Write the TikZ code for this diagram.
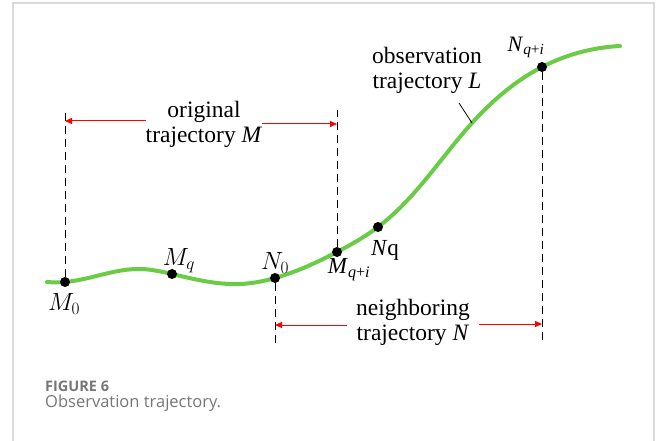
\documentclass[tikz,border=0pt]{standalone}
\usepackage{fontspec}
\setmainfont{Liberation Serif}
\newfontfamily\capfont{Open Sans}
\usepackage{tikz}
\usetikzlibrary{positioning,arrows.meta,hobby}
\definecolor{trajgreen}{RGB}{106,204,70}
\definecolor{capgray}{RGB}{118,118,118}
\definecolor{framegray}{RGB}{218,218,218}

\begin{document}
\begin{tikzpicture}[x=1pt, y=-1pt,
  dot/.style={circle, fill=black, inner sep=0pt, minimum size=10pt},
  span/.style={red, line width=1pt, -{Triangle[length=7pt, width=6pt]}},
  guide/.style={dash pattern=on 8pt off 5pt, line width=0.9pt},
  lbl/.style={font=\fontsize{23}{25}\selectfont, inner sep=0pt},
  txt/.style={font=\fontsize{23.5}{25}\selectfont, align=center, inner sep=0pt}]
\useasboundingbox (0,0) rectangle (656,441);
% frame
\draw[framegray, line width=1.5pt] (13,441) -- (13,3) -- (654,3) -- (654,441);
% observation trajectory
\draw[trajgreen, line width=4pt, line cap=round, use Hobby shortcut]
  (47,282) .. (65,282) .. (140,269) .. (172,274) .. (240,284) .. (275,278)
  .. (337,252) .. (378,227) .. (472,123) .. (542,67) .. (620,46);
% points on the curve
\node[dot] (M0)  at (65,282) {};
\node[dot] (Mq)  at (172,274) {};
\node[dot] (N0)  at (275,278) {};
\node[dot] (Mqi) at (337,252) {};
\node[dot] (Nq)  at (378,227) {};
\node[dot] (Nqi) at (542,67) {};
\node[lbl] (lM0)  at (64,304) {$M_0$};
\node[lbl] (lMq)  at (179,261) {$M_q$};
\node[lbl] (lN0)  at (275,263) {$N_0$};
\node[lbl] (lMqi) at (349,270) {\textit{M}\textsubscript{\textit{q}+\textit{i}}};
\node[lbl] (lNq)  at (385,250) {\textit{N}q};
\node[lbl, font=\fontsize{22}{24}\selectfont] (lNqi) at (526,47)
  {\textit{N}\textsubscript{\textit{q}+\textit{i}}};
% guide lines
\coordinate (topline) at (0,110);
\coordinate (botline) at (0,345);
\draw[guide] (M0) -- (M0 |- topline);
\draw[guide] (Mqi) -- (Mqi |- topline);
\draw[guide] (N0) -- (N0 |- botline);
\draw[guide] (Nqi) -- (Nqi |- botline);
% original trajectory
\node[txt] (orig) at (204,124) {original\\trajectory \textit{M}};
\coordinate (oL) at (65,121);
\coordinate (oR) at (337,124);
\draw[span] (orig.west |- oL) -- (oL);
\draw[span] (orig.east |- oR) -- (oR);
% neighboring trajectory
\node[txt, inner xsep=9pt] (neigh) at (413,322) {neighboring\\trajectory \textit{N}};
\coordinate (nL) at (275,325);
\coordinate (nR) at (542,324);
\draw[span] (neigh.west |- nL) -- (nL);
\draw[span] (neigh.east |- nR) -- (nR);
% observation trajectory label
\node[txt] (obs) at (427,70) {observation\\trajectory \textit{L}};
\coordinate (obsp) at (459,103);
\coordinate (ptr) at (472,123);
\draw[line width=0.8pt] (obsp) -- (ptr);
% caption
\node[anchor=base west, inner sep=0pt, text=capgray,
  font=\capfont\bfseries\fontsize{14.5}{16}\selectfont] (figno) at (45,391) {FIGURE 6};
\node[anchor=base west, inner sep=0pt, text=capgray,
  font=\capfont\fontsize{16.5}{18}\selectfont] (figcap) at (45,407) {Observation trajectory.};
\end{tikzpicture}
\end{document}
